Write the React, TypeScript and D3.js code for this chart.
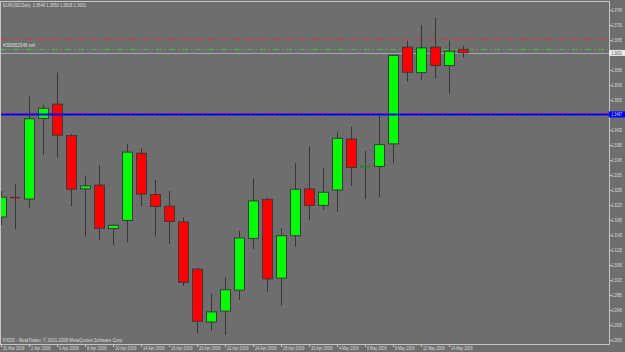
import { useEffect, useRef } from 'react'
import * as d3 from 'd3'

const chartTitle = 'EURUSD,Daily  1.3640 1.3650 1.3618 1.3631'
const copyright = 'FXDD - MetaTrader, © 2001-2008 MetaQuotes Software Corp.'
const orderLabel = '#398652548 sell'

const dates = [
  '31 Mar 2009', '1 Apr 2009', '2 Apr 2009', '3 Apr 2009', '6 Apr 2009', '7 Apr 2009',
  '8 Apr 2009', '9 Apr 2009', '10 Apr 2009', '13 Apr 2009', '14 Apr 2009', '15 Apr 2009',
  '16 Apr 2009', '17 Apr 2009', '20 Apr 2009', '21 Apr 2009', '22 Apr 2009', '23 Apr 2009',
  '24 Apr 2009', '27 Apr 2009', '28 Apr 2009', '29 Apr 2009', '30 Apr 2009', '1 May 2009',
  '4 May 2009', '5 May 2009', '6 May 2009', '7 May 2009', '8 May 2009', '11 May 2009',
  '12 May 2009', '13 May 2009', '14 May 2009', '15 May 2009',
]

const opens = [
  1.3193, 1.3247, 1.3241, 1.3456, 1.3494, 1.341, 1.3268, 1.3278, 1.3162, 1.3184, 1.3363, 1.3253,
  1.3222, 1.318, 1.3054, 1.2913, 1.2942, 1.2998, 1.3136, 1.324, 1.303, 1.3143, 1.3268, 1.3224,
  1.3265, 1.3401, 1.3325, 1.3328, 1.3388, 1.3646, 1.3578, 1.3646, 1.3597, 1.364,
]
const highs = [
  1.3262, 1.3281, 1.3514, 1.3492, 1.3578, 1.3414, 1.3304, 1.3331, 1.3173, 1.3388, 1.3376, 1.3292,
  1.3262, 1.3192, 1.3056, 1.2988, 1.3032, 1.3156, 1.3296, 1.3245, 1.3163, 1.3336, 1.3381, 1.3323,
  1.3421, 1.3434, 1.3369, 1.3463, 1.3625, 1.3663, 1.3705, 1.3724, 1.3663, 1.365,
]
const lows = [
  1.317, 1.3161, 1.3218, 1.3359, 1.3351, 1.3222, 1.3141, 1.3132, 1.3118, 1.3126, 1.3221, 1.3141,
  1.3121, 1.301, 1.2883, 1.289, 1.2878, 1.2972, 1.3107, 1.2994, 1.2956, 1.3114, 1.3185, 1.3212,
  1.3207, 1.3276, 1.3241, 1.3247, 1.3336, 1.3554, 1.3558, 1.3562, 1.3521, 1.3618,
]
const closes = [
  1.3246, 1.3245, 1.3455, 1.3483, 1.3411, 1.3267, 1.3276, 1.3163, 1.3171, 1.3366, 1.3254, 1.3221,
  1.3181, 1.3019, 1.2915, 1.294, 1.2999, 1.3137, 1.3236, 1.3028, 1.3143, 1.3267, 1.3224, 1.3259,
  1.3403, 1.3325, 1.3329, 1.3386, 1.3624, 1.3579, 1.3644, 1.3597, 1.3635, 1.3631,
]

const priceTicks = [
  1.2865, 1.2905, 1.2945, 1.2985, 1.3025, 1.3065, 1.3105, 1.3145, 1.3185, 1.3225, 1.3265, 1.3305,
  1.3345, 1.3385, 1.3425, 1.3465, 1.3505, 1.3545, 1.3585, 1.3625, 1.3665, 1.3705, 1.3745,
]

const bidPrice = 1.3631
const hLinePrice = 1.3467
const stopPrice = 1.3668
const orderPrice = 1.3641
const targetPrice = 1.3472

const App = () => {
  const svgRef = useRef<SVGSVGElement | null>(null)

  useEffect(() => {
    if (!svgRef.current) return
    const svg = d3.select(svgRef.current)
    svg.selectAll('*').remove()

    const width = 625
    const height = 352
    const plot = { left: 0, right: 609, top: 2, bottom: 344 }
    const font = 'Liberation Sans, Arial, sans-serif'
    const textColor = '#dcdcdc'

    const x = d3.scaleLinear().domain([0, dates.length - 1]).range([1, 1 + 14 * (dates.length - 1)])
    const y = d3.scaleLinear().domain([1.2865, 1.3745]).range([340, 10])

    svg.append('rect').attr('width', width).attr('height', height).attr('fill', '#6e6e6e')

    // level lines behind the candles
    const level = (p: number, color: string, dash: string | null, w = 1) => {
      const l = svg.append('line')
        .attr('x1', plot.left).attr('x2', plot.right)
        .attr('y1', Math.round(y(p)) + 0.5).attr('y2', Math.round(y(p)) + 0.5)
        .attr('stroke', color).attr('stroke-width', w)
      if (dash) l.attr('stroke-dasharray', dash)
    }
    level(stopPrice, '#d23a3a', '6,3,1,3')
    level(orderPrice, '#3fbf3f', '6,3,1,3')
    level(bidPrice, '#a4a4b2', null)
    level(targetPrice, '#c84040', '3,3')

    svg.append('text')
      .attr('x', 3).attr('y', y(orderPrice) - 2.5)
      .attr('font-family', font).attr('font-size', 4.8).attr('fill', textColor)
      .attr('textLength', 32).attr('lengthAdjust', 'spacingAndGlyphs')
      .text(orderLabel)

    const idx = d3.range(dates.length)

    // wicks
    svg.append('g').selectAll('line').data(idx).enter().append('line')
      .attr('x1', (i) => Math.round(x(i)) + 0.5).attr('x2', (i) => Math.round(x(i)) + 0.5)
      .attr('y1', (i) => y(highs[i])).attr('y2', (i) => y(lows[i]))
      .attr('stroke', '#363636').attr('stroke-width', 1)

    // bodies
    const bodies = svg.append('g')
    idx.forEach((i) => {
      const up = closes[i] >= opens[i]
      const top = y(Math.max(opens[i], closes[i]))
      const bot = y(Math.min(opens[i], closes[i]))
      const cx = Math.round(x(i))
      if (bot - top < 1.6) {
        bodies.append('line')
          .attr('x1', cx - 5).attr('x2', cx + 5)
          .attr('y1', Math.round(top) + 0.5).attr('y2', Math.round(top) + 0.5)
          .attr('stroke', up ? '#1e8a1e' : '#7a2020').attr('stroke-width', 1.5)
      } else {
        bodies.append('rect')
          .attr('x', cx - 4.5).attr('width', 10)
          .attr('y', top).attr('height', bot - top)
          .attr('fill', up ? '#00ff00' : '#ff0000')
          .attr('stroke', '#3a3a3a').attr('stroke-width', 1)
      }
    })

    // blue horizontal line on top
    level(hLinePrice, '#0000ff', null, 2)

    // frame
    const frame = svg.append('g').attr('stroke', '#c6c6c6').attr('stroke-width', 1)
    frame.append('line').attr('x1', 0).attr('x2', plot.right).attr('y1', plot.top - 0.5).attr('y2', plot.top - 0.5)
    frame.append('line').attr('x1', 0.5).attr('x2', 0.5).attr('y1', plot.top).attr('y2', plot.bottom)
    frame.append('line').attr('x1', plot.right + 0.5).attr('x2', plot.right + 0.5).attr('y1', plot.top - 1).attr('y2', plot.bottom + 1)
    frame.append('line').attr('x1', 0).attr('x2', plot.right + 1).attr('y1', plot.bottom + 0.5).attr('y2', plot.bottom + 0.5)

    // price axis
    const shown = priceTicks.filter(
      (t) => Math.abs(y(t) - y(bidPrice)) > 4 && Math.abs(y(t) - y(hLinePrice)) > 4
    )
    const axis = svg.append('g')
    shown.forEach((t) => {
      axis.append('line')
        .attr('x1', plot.right).attr('x2', plot.right + 3)
        .attr('y1', Math.round(y(t)) + 0.5).attr('y2', Math.round(y(t)) + 0.5)
        .attr('stroke', '#c6c6c6')
      axis.append('text')
        .attr('x', 611.5).attr('y', y(t) + 2.3)
        .attr('font-family', font).attr('font-size', 4.8).attr('fill', textColor)
        .attr('textLength', 10.5).attr('lengthAdjust', 'spacingAndGlyphs')
        .text(t.toFixed(4))
    })

    const badge = (p: number, bg: string, fg: string) => {
      axis.append('rect')
        .attr('x', plot.right).attr('y', y(p) - 2.8).attr('width', width - plot.right).attr('height', 6)
        .attr('fill', bg)
      axis.append('text')
        .attr('x', 611.5).attr('y', y(p) + 2)
        .attr('font-family', font).attr('font-size', 4.8).attr('fill', fg)
        .attr('textLength', 10.5).attr('lengthAdjust', 'spacingAndGlyphs')
        .text(p.toFixed(4))
    }
    badge(bidPrice, '#e8e8e8', '#555555')
    badge(hLinePrice, '#0000ff', '#d8d8ff')

    // time axis
    const timeAxis = svg.append('g')
    idx.filter((i) => i % 2 === 0).forEach((i) => {
      const tx = Math.round(x(i)) + 0.5
      timeAxis.append('line')
        .attr('x1', tx).attr('x2', tx).attr('y1', plot.bottom).attr('y2', plot.bottom + 3)
        .attr('stroke', '#c6c6c6')
      timeAxis.append('text')
        .attr('x', tx + 1.5).attr('y', 350.3)
        .attr('font-family', font).attr('font-size', 4.8).attr('fill', textColor)
        .attr('textLength', dates[i].length * 1.95).attr('lengthAdjust', 'spacingAndGlyphs')
        .text(dates[i])
    })

    // titles
    svg.append('text')
      .attr('x', 3).attr('y', 7)
      .attr('font-family', font).attr('font-size', 4.8).attr('fill', textColor)
      .attr('textLength', 83).attr('lengthAdjust', 'spacingAndGlyphs')
      .attr('xml:space', 'preserve').style('white-space', 'pre')
      .text(chartTitle)
    svg.append('text')
      .attr('x', 3).attr('y', 342)
      .attr('font-family', font).attr('font-size', 4.8).attr('fill', textColor)
      .attr('textLength', 120).attr('lengthAdjust', 'spacingAndGlyphs')
      .text(copyright)
  }, [])

  return (
    <div style={{ position: 'absolute', left: 0, top: 0 }}>
      <svg ref={svgRef} width={625} height={352} style={{ display: 'block' }} />
    </div>
  )
}

export default App
